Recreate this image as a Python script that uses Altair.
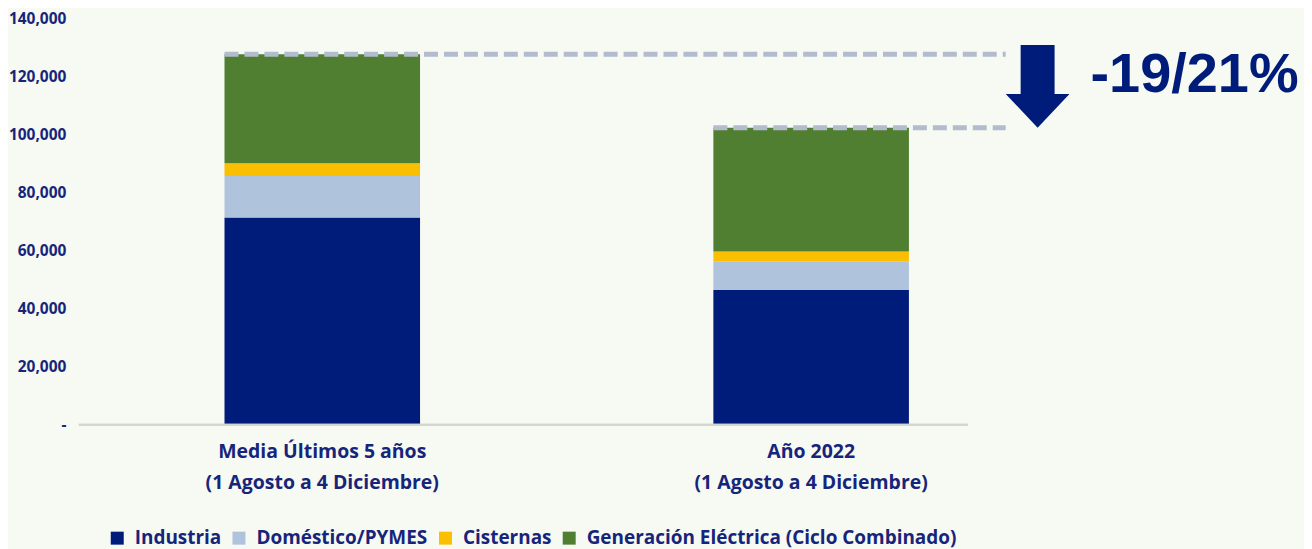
import altair as alt
import pandas as pd

categories = ["Media Últimos 5 años|(1 Agosto a 4 Diciembre)", "Año 2022|(1 Agosto a 4 Diciembre)"]
series = ["Industria", "Doméstico/PYMES", "Cisternas", "Generación Eléctrica (Ciclo Combinado)"]
industria = [71400, 46400]
domestico = [14300, 9900]
cisternas = [4400, 3400]
generacion = [37600, 42700]
colors = ["#001c7a", "#afc3dd", "#f9bf00", "#507f32"]
annotation = "-19/21%"

rows = []
for i, c in enumerate(categories):
    for j, (s, vals) in enumerate(zip(series, [industria, domestico, cisternas, generacion])):
        rows.append({"cat": c, "serie": s, "valor": vals[i], "orden": j})
df = pd.DataFrame(rows)
totals = pd.DataFrame({"cat": categories,
                       "total": [industria[i] + domestico[i] + cisternas[i] + generacion[i] for i in range(2)]})

navy = "#16257a"
font = "Open Sans"
W, H = 980, 407

xscale = alt.Scale(domain=categories, paddingInner=0.6, paddingOuter=0.3)
yscale = alt.Scale(domain=[0, 140000])

bars = alt.Chart(df).mark_bar(stroke=None).encode(
    x=alt.X("cat:N", scale=xscale, sort=categories,
            axis=alt.Axis(title=None, labelExpr="split(datum.label, '|')", labelFontSize=19.5,
                          labelFontWeight="bold", labelColor=navy, labelFont=font, labelLineHeight=31,
                          labelPadding=18, labelLimit=0, ticks=False, domain=False, labelAngle=0)),
    y=alt.Y("valor:Q", stack="zero", scale=yscale,
            axis=alt.Axis(title=None, values=list(range(0, 140001, 20000)), grid=False, ticks=False,
                          domain=False, labelFontSize=15.5, labelFontWeight="bold", labelColor=navy,
                          labelFont=font, labelPadding=12,
                          labelExpr="datum.value == 0 ? '-' : format(datum.value, ',')")),
    color=alt.Color("serie:N", scale=alt.Scale(domain=series, range=colors), sort=series,
                    legend=alt.Legend(title=None, orient="none", legendX=30, legendY=511,
                                      direction="horizontal", symbolType="square", symbolSize=169,
                                      symbolStrokeWidth=0, labelFontSize=19, labelFontWeight="bold",
                                      labelColor=navy, labelFont=font, labelLimit=0,
                                      columnPadding=8, labelOffset=8)),
    order=alt.Order("orden:Q"),
)

baseline = alt.Chart(totals).mark_rule(color="#d3d6cd", strokeWidth=2).encode(
    x=alt.value(1), x2=alt.value(892), y=alt.datum(0, scale=yscale)
)

dashes = alt.Chart(totals).mark_rule(color="#b3bccd", strokeWidth=5, strokeDash=[14, 6]).encode(
    x=alt.X("cat:N", scale=xscale, sort=categories, bandPosition=0),
    x2=alt.value(930),
    y=alt.Y("total:Q", scale=yscale),
)

arrow_path = "M -0.41 -1 L 0.41 -1 L 0.41 0.18 L 0.77 0.18 L 0 1 L -0.77 0.18 L -0.41 0.18 Z"
arrow = alt.Chart(totals.head(1)).mark_point(shape=arrow_path, filled=True, color="#001c7a",
                                             opacity=1, size=6889, strokeWidth=0).encode(
    x=alt.value(962), y=alt.value(68)
)

label = alt.Chart(totals.head(1)).mark_text(text=annotation, font="Liberation Sans", fontWeight="bold",
                                            fontSize=56, color="#001c7a", align="left",
                                            baseline="alphabetic").encode(
    x=alt.value(1015), y=alt.value(74)
)

chart = alt.layer(bars, baseline, dashes, arrow, label).properties(
    width=W, height=H, background="#f7f9f3",
    padding={"top": 3, "left": 0, "right": 5, "bottom": 5},
).configure_view(stroke=None)

chart.save("out.html", embed_options={"renderer": "svg", "actions": False})
